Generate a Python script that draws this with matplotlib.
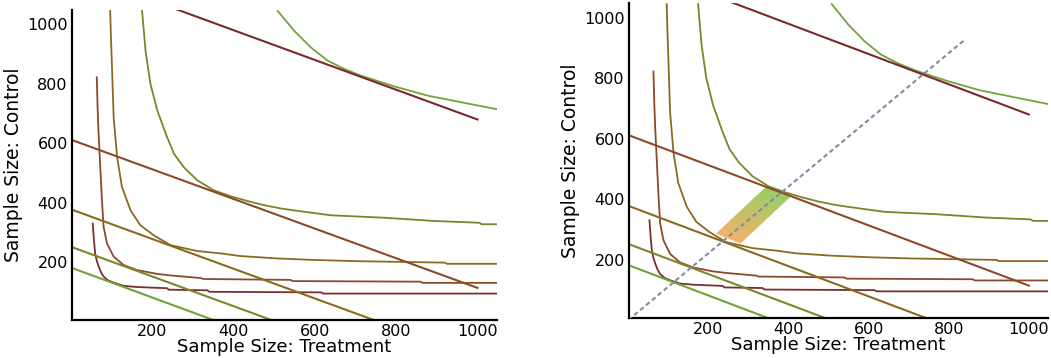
import numpy as np
import matplotlib
matplotlib.use("Agg")
import matplotlib.pyplot as plt
from matplotlib.patches import Polygon

# curvas de tamaño de muestra, de abajo hacia arriba
curva_a_x = [53, 56, 59, 63, 68, 74, 80, 90, 104, 129, 162, 236, 240, 335, 340, 615, 620, 1050]
curva_a_y = [330, 275, 230, 205, 185, 165, 152, 140, 132, 121, 117, 113, 108, 106, 101, 99, 95, 95]

curva_b_x = [63, 65, 67.5, 71.6, 75.7, 79.8, 88, 104.5, 129, 162, 212, 244, 320, 325, 540, 545, 860, 865, 1050]
curva_b_y = [822, 720, 632, 520, 409, 319, 264, 219, 191, 174, 161, 156, 147, 144, 141, 137, 135, 131, 131]

curva_c_x = [96, 98, 100.5, 104.5, 113, 125, 146, 170, 203, 244, 310, 368, 417, 508, 598, 700, 920, 925, 1050]
curva_c_y = [1045, 950, 855, 688, 554, 453, 375, 325, 291, 258, 238, 230, 221, 213, 208, 204, 199, 195, 195]

curva_d_x = [174.5, 183, 195, 212, 236, 253, 277, 310, 351, 393, 434, 475, 516, 557, 640, 770, 894, 1005, 1010, 1050]
curva_d_y = [1045, 911, 800, 710, 621, 565, 520, 476, 442, 422, 406, 392, 381, 373, 358, 350, 339, 333, 328, 328]

curva_e_x = [508, 549, 590, 631, 672, 714, 796, 878, 960, 1050]
curva_e_y = [1045, 978, 922, 878, 850, 827, 791, 760, 738, 714]

curvas = [(curva_a_x, curva_a_y), (curva_b_x, curva_b_y), (curva_c_x, curva_c_y),
          (curva_d_x, curva_d_y), (curva_e_x, curva_e_y)]
colores_curvas = ['#7a2e2e', '#8b4a2a', '#8a6a22', '#7d842a', '#73a33a']

# rectas de costo: extremos (x0, y0) -> (x1, y1)
rectas_x0 = [0, 0, 0, 0, 0]
rectas_y0 = [1180, 612, 378, 252, 182]
rectas_x1 = [1000, 1000, 757, 505, 362]
rectas_y1 = [680, 114, 0, 0, 0]
colores_rectas = ['#7a2a2a', '#8b4a2a', '#8a6a20', '#7d862a', '#6fa33a']

# diagonal y banda del panel derecho
diag_x = [0, 838]
diag_y = [0, 925]
banda_ini = (250, 270)
banda_fin = (374, 424)
banda_media = (30, -16)


def dibujar(ax):
    for (xs, ys), c in zip(curvas, colores_curvas):
        ax.plot(xs, ys, color=c, lw=1.3, zorder=2)
    for x0, y0, x1, y1, c in zip(rectas_x0, rectas_y0, rectas_x1, rectas_y1, colores_rectas):
        ax.plot([x0, x1], [y0, y1], color=c, lw=1.5, zorder=2)
    ax.set_xlim(2, 1048)
    ax.set_ylim(6, 1048)
    ax.set_xticks([200, 400, 600, 800, 1000])
    ax.set_yticks([200, 400, 600, 800, 1000])
    ax.tick_params(length=0, labelsize=11.5, pad=3)
    for s in ['top', 'right']:
        ax.spines[s].set_visible(False)
    for s in ['left', 'bottom']:
        ax.spines[s].set_linewidth(1.6)
    ax.set_xlabel('Sample Size: Treatment', fontsize=13, labelpad=-1)
    ax.set_ylabel('Sample Size: Control', fontsize=13.5, labelpad=3)


fig = plt.figure(figsize=(10.51, 3.58), dpi=100)
ax1 = fig.add_axes([0.0685, 0.106, 0.4044, 0.866])
ax2 = fig.add_axes([0.5985, 0.111, 0.3987, 0.880])
dibujar(ax1)
dibujar(ax2)

# banda con degradado de naranja a verde
naranja = np.array([242, 168, 88]) / 255
verde = np.array([140, 200, 80]) / 255
n = 40
bx0, by0 = banda_ini
bx1, by1 = banda_fin
hx, hy = banda_media
for i in range(n):
    t0, t1 = i / n, (i + 1) / n
    ax0_, ay0_ = bx0 + (bx1 - bx0) * t0, by0 + (by1 - by0) * t0
    ax1_, ay1_ = bx0 + (bx1 - bx0) * t1, by0 + (by1 - by0) * t1
    col = naranja + (verde - naranja) * (t0 + t1) / 2
    pts = [(ax0_ - hx, ay0_ - hy), (ax0_ + hx, ay0_ + hy),
           (ax1_ + hx, ay1_ + hy), (ax1_ - hx, ay1_ - hy)]
    ax2.add_patch(Polygon(pts, closed=True, facecolor=col, edgecolor=col,
                          lw=0.3, alpha=0.85, zorder=1))

ax2.plot(diag_x, diag_y, color='#7f8da3', lw=1.5, dashes=(2.2, 1.5), zorder=3)

fig.savefig('out.png', dpi=100)
